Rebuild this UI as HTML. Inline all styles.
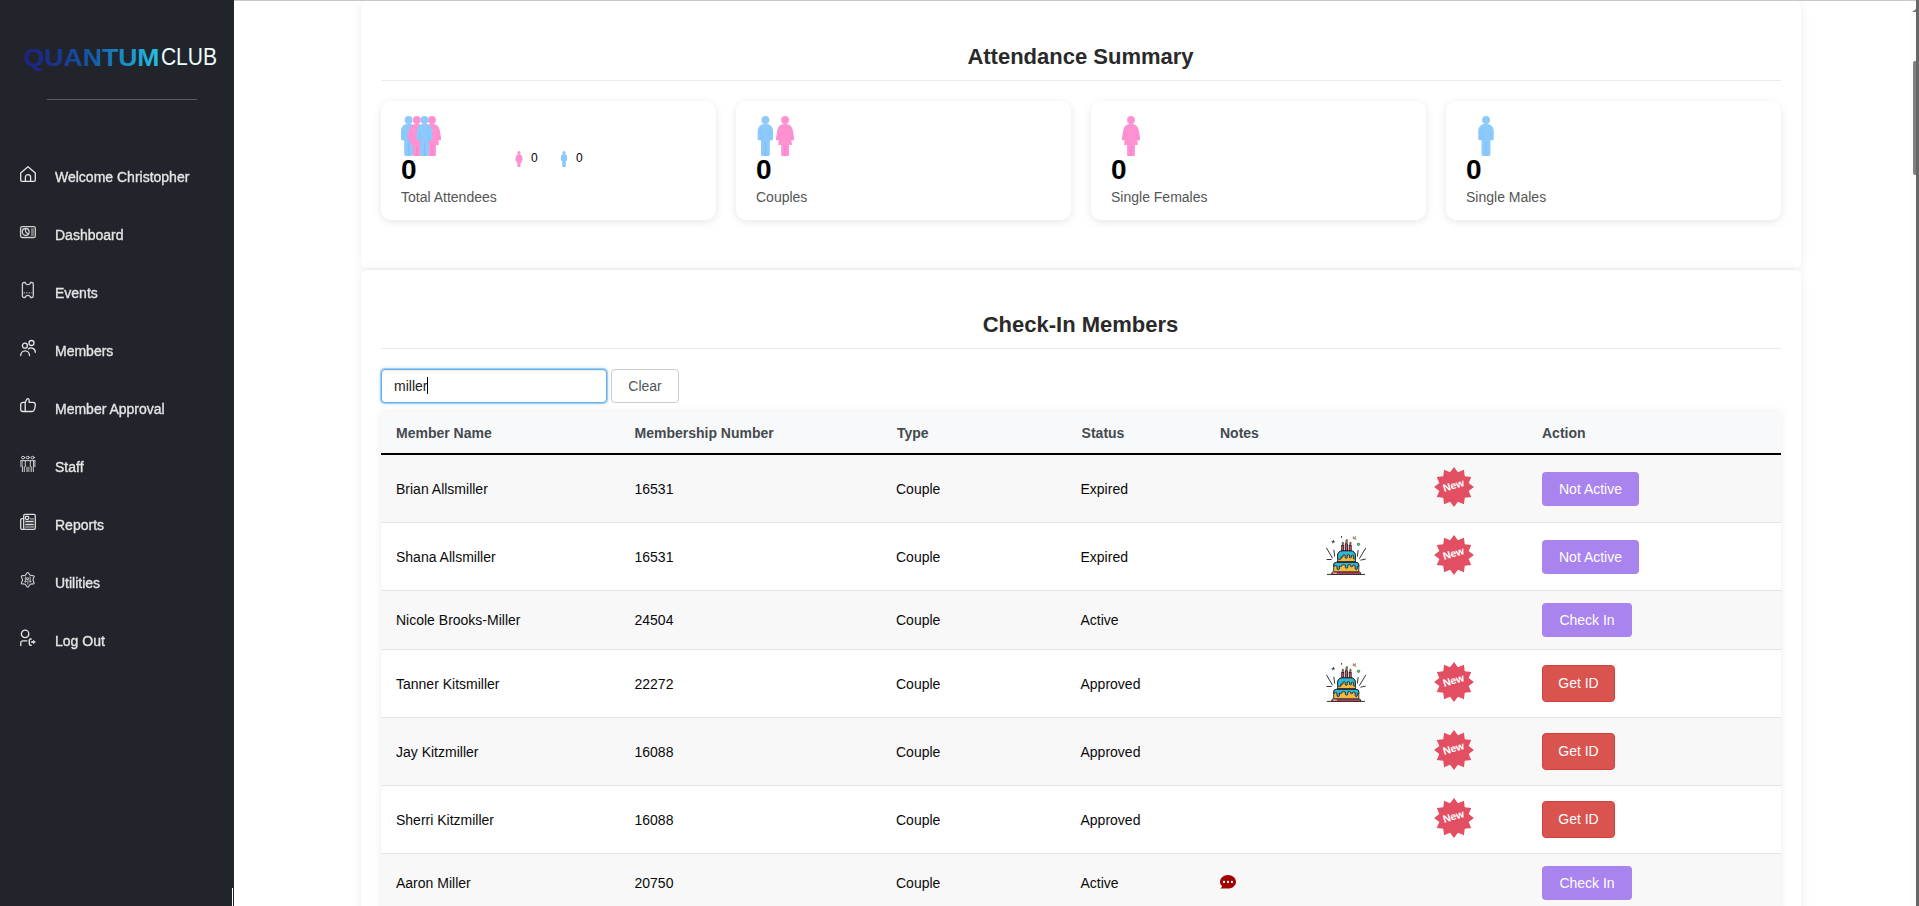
<!DOCTYPE html>
<html lang="en">
<head>
<meta charset="utf-8">
<title>Quantum Club - Check-In</title>
<style>
*{box-sizing:border-box;}
html,body{margin:0;padding:0;width:1919px;height:906px;overflow:hidden;background:#fff;
  font-family:"Liberation Sans",Arial,Helvetica,sans-serif;color:#111;}
#topline{position:absolute;left:234px;top:0;width:1682px;height:1px;background:#c9c9c9;}
#sbar{position:absolute;left:1916px;top:0;width:3px;height:906px;background:#666;}
#strack{position:absolute;left:1909px;top:1px;width:7px;height:905px;background:#fcfcfc;}
#sthumb{position:absolute;left:1913px;top:61px;width:3px;height:114px;background:#808080;border-radius:2px 0 0 2px;}
#sarrow{position:absolute;left:1912px;top:9px;width:0;height:0;border-left:4px solid transparent;border-bottom:3px solid #777;}

/* sidebar */
#side{position:absolute;left:0;top:0;width:234px;height:906px;background:#21242b;color:#e9e9e9;}
#side hr{position:absolute;left:47px;top:99px;width:150px;height:1px;border:0;margin:0;background:#5a5d63;}
.nav{position:absolute;left:0;width:234px;height:24px;}
.nav svg{position:absolute;left:20px;top:0;width:16px;height:16px;overflow:visible;fill:none;stroke:#e6e6e6;stroke-width:1.3;stroke-linecap:round;stroke-linejoin:round;}
.nav span{position:absolute;left:55px;top:3px;font-size:14px;line-height:17px;color:#e4e4e4;white-space:nowrap;will-change:transform;-webkit-text-stroke:0.35px #e4e4e4;}

/* cards */
.card{position:absolute;left:361px;width:1440px;background:#fff;border-radius:6px;
  box-shadow:0 0 11px rgba(0,0,0,0.075);}
.card h2{position:absolute;left:-0.5px;width:1440px;margin:0;text-align:center;font-size:22px;line-height:26px;font-weight:bold;color:#2a2a2a;}
.card .rule{position:absolute;left:20px;width:1400px;height:1px;background:#ebebeb;}
.stat{position:absolute;width:335px;height:119px;background:#fff;border-radius:10px;
  box-shadow:0 2px 9px rgba(0,0,0,0.10);}
.stat .num{position:absolute;left:20px;top:53px;font-size:28px;line-height:32px;font-weight:bold;color:#000;}
.stat .lbl{position:absolute;left:20px;top:88px;font-size:14px;line-height:17px;color:#555;white-space:nowrap;}
.stat svg{position:absolute;}
.mini{position:absolute;font-size:12px;line-height:14px;color:#000;}

/* search */
#q{position:absolute;left:20px;top:99px;width:226px;height:34px;border:1px solid #66afe9;border-radius:4px;
  box-shadow:inset 0 1px 1px rgba(0,0,0,.075),0 0 0 1px rgba(140,192,243,.75),0 0 4px rgba(102,175,233,.55);font-size:14px;line-height:32px;padding:0 12px;color:#222;background:#fff;white-space:nowrap;}
#q i{display:inline-block;width:1px;height:17px;background:#000;vertical-align:-3px;margin-left:0;}
#clr{position:absolute;left:250px;top:99px;width:68px;height:34px;border:1px solid #ccc;border-radius:4px;background:#fff;
  font-size:14px;line-height:32px;text-align:center;color:#555;}

/* table */
#tbl{position:absolute;left:20px;top:142px;width:1400px;box-shadow:0 0 8px rgba(0,0,0,0.08);}
#thead{position:relative;height:43px;background:#f8f9fa;border-bottom:2px solid #000;}
#thead b{position:absolute;top:13px;font-size:14px;line-height:17px;color:#444a50;white-space:nowrap;}
.row{position:relative;border-bottom:1px solid #e3e4e8;background:#fff;}
.row.alt{background:#f8f8f8;}
.row.tall{height:68px;}
.row.short{height:59px;}
.row span{position:absolute;font-size:14px;line-height:17px;color:#0a0a0a;white-space:nowrap;}
.tall span{top:26px;}
.short span{top:21px;}
.c1{left:15px;}.c2{left:253.5px;}.c3{left:515px;}.c4{left:699.5px;}
.btn{position:absolute;left:1161px;border-radius:4px;color:#fff;font-size:14px;text-align:center;white-space:nowrap;}
.pur{background:#a983ee;height:34px;line-height:34px;}
.red{background:#d9534f;height:37px;line-height:35px;width:73px;border:1px solid #d43f3a;}
.tall .pur{top:17px;}.short .pur{top:12px;}.tall .red{top:15px;}
.new{position:absolute;left:1053px;top:12px;width:40px;height:40px;}
.cake{position:absolute;left:945px;top:12px;width:40px;height:40px;}
</style>
</head>
<body>
<div id="main">
<div class="card" style="top:1px;height:267px">
<h2 style="top:43px">Attendance Summary</h2>
<div class="rule" style="top:79px"></div>
<div class="stat" style="left:20px;top:100px"><svg style="left:20px;top:15px" width="40" height="40" viewBox="0 0 40 40"><g transform="translate(7.6 0) scale(1.0)"><circle cx="0" cy="3.95" r="3.95" fill="#8dc9fb"/><path fill="#8dc9fb" d="M-7.75 15.6C-7.75 10.6-4.6 7.8 0 7.8C4.6 7.8 7.75 10.6 7.75 15.6V23.1Q7.75 24.3 6.6 24.3H4.4V38.6Q4.4 40 3 40H-3Q-4.4 40-4.4 38.6V24.3H-6.6Q-7.75 24.3-7.75 23.1Z"/><path d="M-4.4 15.5V24.3M4.4 15.5V24.3" stroke="#74bdfa" stroke-width=".5" opacity=".7"/><path d="M0 26V40" stroke="#74bdfa" stroke-width=".9"/></g><g transform="translate(15.8 0) scale(1.0)"><circle cx="0" cy="3.95" r="3.95" fill="#fd92d3"/><path fill="#fd92d3" d="M0 7.8C3.8 7.8 6.8 10 7.7 14L9.2 22.8Q9.3 24.7 7.8 24.4L6.3 24L6.9 29.1H3.9V38.8Q3.9 40 2.7 40H-2.7Q-3.9 40-3.9 38.8V29.1H-6.9L-6.3 24L-7.8 24.4Q-9.3 24.7-9.2 22.8L-7.7 14C-6.8 10-3.8 7.8 0 7.8Z"/><path d="M-5 15.5L-6.3 24M5 15.5L6.3 24" stroke="#fb7cc9" stroke-width=".5" opacity=".7"/><path d="M0 30V40" stroke="#fb7cc9" stroke-width=".9"/></g><g transform="translate(31 0) scale(1.0)"><circle cx="0" cy="3.95" r="3.95" fill="#fd92d3"/><path fill="#fd92d3" d="M0 7.8C3.8 7.8 6.8 10 7.7 14L9.2 22.8Q9.3 24.7 7.8 24.4L6.3 24L6.9 29.1H3.9V38.8Q3.9 40 2.7 40H-2.7Q-3.9 40-3.9 38.8V29.1H-6.9L-6.3 24L-7.8 24.4Q-9.3 24.7-9.2 22.8L-7.7 14C-6.8 10-3.8 7.8 0 7.8Z"/><path d="M-5 15.5L-6.3 24M5 15.5L6.3 24" stroke="#fb7cc9" stroke-width=".5" opacity=".7"/><path d="M0 30V40" stroke="#fb7cc9" stroke-width=".9"/></g><g transform="translate(23.5 0) scale(1.0)"><circle cx="0" cy="3.95" r="3.95" fill="#8dc9fb"/><path fill="#8dc9fb" d="M-7.75 15.6C-7.75 10.6-4.6 7.8 0 7.8C4.6 7.8 7.75 10.6 7.75 15.6V23.1Q7.75 24.3 6.6 24.3H4.4V38.6Q4.4 40 3 40H-3Q-4.4 40-4.4 38.6V24.3H-6.6Q-7.75 24.3-7.75 23.1Z"/><path d="M-4.4 15.5V24.3M4.4 15.5V24.3" stroke="#74bdfa" stroke-width=".5" opacity=".7"/><path d="M0 26V40" stroke="#74bdfa" stroke-width=".9"/></g></svg><div class="num">0</div><div class="lbl">Total Attendees</div><svg style="left:130px;top:50px" width="16" height="16" viewBox="0 0 16 16"><g transform="translate(8 0) scale(0.4)"><circle cx="0" cy="3.95" r="3.95" fill="#fd92d3"/><path fill="#fd92d3" d="M0 7.8C3.8 7.8 6.8 10 7.7 14L9.2 22.8Q9.3 24.7 7.8 24.4L6.3 24L6.9 29.1H3.9V38.8Q3.9 40 2.7 40H-2.7Q-3.9 40-3.9 38.8V29.1H-6.9L-6.3 24L-7.8 24.4Q-9.3 24.7-9.2 22.8L-7.7 14C-6.8 10-3.8 7.8 0 7.8Z"/><path d="M-5 15.5L-6.3 24M5 15.5L6.3 24" stroke="#fb7cc9" stroke-width=".5" opacity=".7"/><path d="M0 30V40" stroke="#fb7cc9" stroke-width=".9"/></g></svg><div class="mini" style="left:150px;top:50px">0</div><svg style="left:175px;top:50px" width="16" height="16" viewBox="0 0 16 16"><g transform="translate(8 0) scale(0.4)"><circle cx="0" cy="3.95" r="3.95" fill="#8dc9fb"/><path fill="#8dc9fb" d="M-7.75 15.6C-7.75 10.6-4.6 7.8 0 7.8C4.6 7.8 7.75 10.6 7.75 15.6V23.1Q7.75 24.3 6.6 24.3H4.4V38.6Q4.4 40 3 40H-3Q-4.4 40-4.4 38.6V24.3H-6.6Q-7.75 24.3-7.75 23.1Z"/><path d="M-4.4 15.5V24.3M4.4 15.5V24.3" stroke="#74bdfa" stroke-width=".5" opacity=".7"/><path d="M0 26V40" stroke="#74bdfa" stroke-width=".9"/></g></svg><div class="mini" style="left:195px;top:50px">0</div></div>
<div class="stat" style="left:375px;top:100px"><svg style="left:20px;top:15px" width="40" height="40" viewBox="0 0 40 40"><g transform="translate(9.4 0) scale(1.0)"><circle cx="0" cy="3.95" r="3.95" fill="#8dc9fb"/><path fill="#8dc9fb" d="M-7.75 15.6C-7.75 10.6-4.6 7.8 0 7.8C4.6 7.8 7.75 10.6 7.75 15.6V23.1Q7.75 24.3 6.6 24.3H4.4V38.6Q4.4 40 3 40H-3Q-4.4 40-4.4 38.6V24.3H-6.6Q-7.75 24.3-7.75 23.1Z"/><path d="M-4.4 15.5V24.3M4.4 15.5V24.3" stroke="#74bdfa" stroke-width=".5" opacity=".7"/><path d="M0 26V40" stroke="#74bdfa" stroke-width=".9"/></g><g transform="translate(29.1 0) scale(1.0)"><circle cx="0" cy="3.95" r="3.95" fill="#fd92d3"/><path fill="#fd92d3" d="M0 7.8C3.8 7.8 6.8 10 7.7 14L9.2 22.8Q9.3 24.7 7.8 24.4L6.3 24L6.9 29.1H3.9V38.8Q3.9 40 2.7 40H-2.7Q-3.9 40-3.9 38.8V29.1H-6.9L-6.3 24L-7.8 24.4Q-9.3 24.7-9.2 22.8L-7.7 14C-6.8 10-3.8 7.8 0 7.8Z"/><path d="M-5 15.5L-6.3 24M5 15.5L6.3 24" stroke="#fb7cc9" stroke-width=".5" opacity=".7"/><path d="M0 30V40" stroke="#fb7cc9" stroke-width=".9"/></g></svg><div class="num">0</div><div class="lbl">Couples</div></div>
<div class="stat" style="left:730px;top:100px"><svg style="left:20px;top:15px" width="40" height="40" viewBox="0 0 40 40"><g transform="translate(20 0) scale(1.0)"><circle cx="0" cy="3.95" r="3.95" fill="#fd92d3"/><path fill="#fd92d3" d="M0 7.8C3.8 7.8 6.8 10 7.7 14L9.2 22.8Q9.3 24.7 7.8 24.4L6.3 24L6.9 29.1H3.9V38.8Q3.9 40 2.7 40H-2.7Q-3.9 40-3.9 38.8V29.1H-6.9L-6.3 24L-7.8 24.4Q-9.3 24.7-9.2 22.8L-7.7 14C-6.8 10-3.8 7.8 0 7.8Z"/><path d="M-5 15.5L-6.3 24M5 15.5L6.3 24" stroke="#fb7cc9" stroke-width=".5" opacity=".7"/><path d="M0 30V40" stroke="#fb7cc9" stroke-width=".9"/></g></svg><div class="num">0</div><div class="lbl">Single Females</div></div>
<div class="stat" style="left:1085px;top:100px"><svg style="left:20px;top:15px" width="40" height="40" viewBox="0 0 40 40"><g transform="translate(20 0) scale(1.0)"><circle cx="0" cy="3.95" r="3.95" fill="#8dc9fb"/><path fill="#8dc9fb" d="M-7.75 15.6C-7.75 10.6-4.6 7.8 0 7.8C4.6 7.8 7.75 10.6 7.75 15.6V23.1Q7.75 24.3 6.6 24.3H4.4V38.6Q4.4 40 3 40H-3Q-4.4 40-4.4 38.6V24.3H-6.6Q-7.75 24.3-7.75 23.1Z"/><path d="M-4.4 15.5V24.3M4.4 15.5V24.3" stroke="#74bdfa" stroke-width=".5" opacity=".7"/><path d="M0 26V40" stroke="#74bdfa" stroke-width=".9"/></g></svg><div class="num">0</div><div class="lbl">Single Males</div></div>
</div>
<div class="card" style="top:270px;height:660px">
<h2 style="top:42px">Check-In Members</h2>
<div class="rule" style="top:78px"></div>
<div id="q">miller<i></i></div><div id="clr">Clear</div>
<div id="tbl"><div id="thead"><b style="left:15px">Member Name</b><b style="left:253.5px">Membership Number</b><b style="left:516px">Type</b><b style="left:700.6px">Status</b><b style="left:839px">Notes</b><b style="left:1161px">Action</b></div>
<div class="row tall alt"><span class="c1">Brian Allsmiller</span><span class="c2">16531</span><span class="c3">Couple</span><span class="c4">Expired</span><svg class="new" viewBox="0 0 40 40"><polygon points="20.00,0.10 23.93,5.32 29.95,2.77 30.75,9.25 37.23,10.05 34.68,16.07 39.90,20.00 34.68,23.93 37.23,29.95 30.75,30.75 29.95,37.23 23.93,34.68 20.00,39.90 16.07,34.68 10.05,37.23 9.25,30.75 2.77,29.95 5.32,23.93 0.10,20.00 5.32,16.07 2.77,10.05 9.25,9.25 10.05,2.77 16.07,5.32" fill="#e24f62"/><text x="20" y="22" text-anchor="middle" transform="rotate(-17 20 20)" font-family="Liberation Sans, Arial, sans-serif" font-weight="bold" font-size="10.6" fill="#fff">New</text></svg><div class="btn pur" style="width:97px">Not Active</div></div>
<div class="row tall"><span class="c1">Shana Allsmiller</span><span class="c2">16531</span><span class="c3">Couple</span><span class="c4">Expired</span><svg class="cake" viewBox="0 0 40 40">
<g stroke="#1c1c24" stroke-width=".9" stroke-linecap="round" fill="none"><path d="M.6 13.2L6.4 23M7.9 15.2L8.6 21.2M1 24.5H5.3M39.6 13.2L33.5 23.4M32.1 15.5L31.4 21.2M34.8 25.1L39.3 24.2M1.4 39.4H38.6"/><path d="M6 6.6L8.6 6.9M7.6 5.4L6.8 8" stroke-width=".8"/><path d="M15.6 1.4V2.4"/></g>
<path d="M27 1.5L28.6 2.6L29.6 1.3L29.2 3.2L30 4.6L28.3 4L26.6 3.3L27.6 2.6Z" fill="#f2a33a" stroke="#2a2a33" stroke-width=".3"/>
<circle cx="32.5" cy="9.3" r="1.3" fill="#4fc46a" stroke="#2a2a33" stroke-width=".4"/>
<g stroke="#1c1c24" stroke-width=".85"><rect x="15.7" y="10.5" width="2" height="5.6" fill="#e0506a"/><rect x="19.3" y="8.8" width="2.2" height="7.3" fill="#e0506a"/><rect x="23.2" y="10.5" width="2" height="5.6" fill="#e0506a"/>
<path d="M16.7 10.3C15.6 9 16.4 7.6 16.9 6.9C17.6 8 17.8 9.3 16.7 10.3ZM20.4 8.6C19.1 7.2 20 5.3 21 4.3C21.6 5.8 21.8 7.4 20.4 8.6ZM24.2 10.3C23.1 9 23.9 7.6 24.6 6.9C25.2 8 25.3 9.3 24.2 10.3Z" fill="#e8922e" stroke-width=".7"/>
<path d="M5.6 39.2Q5.6 36.9 7.4 36.9H33Q34.8 36.9 34.8 39.2Z" fill="#e0506a"/>
<path d="M7.7 36.8V30Q7.7 27.3 10.6 27.3H29.9Q32.8 27.3 32.8 30V36.8Z" fill="#f4b843"/>
<path d="M7.7 31.5V30Q7.7 27.3 10.6 27.3H29.9Q32.8 27.3 32.8 30V31.5Q31.9 32.2 31.2 31.5V34Q30.2 35.6 29.2 34V30.5Q27.8 29.4 26.6 30.5V31.3Q25.6 32.3 24.6 31.3V30Q23.2 28.9 21.8 30V32.6Q20.6 33.8 19.4 32.6V30.2Q17.6 29 15.8 30.2V31Q14.6 32 13.4 31V34Q12.2 35.4 11 34V31Q9.4 30 7.7 31.5Z" fill="#2fbad8"/>
<path d="M11.6 26.8V21Q11.6 15.9 16.6 15.9H24.4Q29.4 15.9 29.4 21V26.8Z" fill="#f4b843"/>
<path d="M11.6 23.6V21Q11.6 15.9 16.6 15.9H24.4Q29.4 15.9 29.4 21V23.6Q28.4 24.6 27.4 23.6V20.5Q26.4 19.5 25.4 20.5V22.4Q24.4 23.4 23.4 22.4V20Q22.3 19 21.2 20V22.8Q20.2 23.8 19.2 22.8V20.2Q18.1 19.2 17 20.2V21.8Q16 22.8 15 21.8V24Q13.4 25.4 11.6 23.6Z" fill="#2fbad8"/>
<path d="M11 26.8H30" stroke-width=".8"/></g>
<path d="M7.4 38.1H10.4" stroke="#f6a9b6" stroke-width="1.2" stroke-linecap="round"/>
</svg><svg class="new" viewBox="0 0 40 40"><polygon points="20.00,0.10 23.93,5.32 29.95,2.77 30.75,9.25 37.23,10.05 34.68,16.07 39.90,20.00 34.68,23.93 37.23,29.95 30.75,30.75 29.95,37.23 23.93,34.68 20.00,39.90 16.07,34.68 10.05,37.23 9.25,30.75 2.77,29.95 5.32,23.93 0.10,20.00 5.32,16.07 2.77,10.05 9.25,9.25 10.05,2.77 16.07,5.32" fill="#e24f62"/><text x="20" y="22" text-anchor="middle" transform="rotate(-17 20 20)" font-family="Liberation Sans, Arial, sans-serif" font-weight="bold" font-size="10.6" fill="#fff">New</text></svg><div class="btn pur" style="width:97px">Not Active</div></div>
<div class="row short alt"><span class="c1">Nicole Brooks-Miller</span><span class="c2">24504</span><span class="c3">Couple</span><span class="c4">Active</span><div class="btn pur" style="width:90px">Check In</div></div>
<div class="row tall"><span class="c1">Tanner Kitsmiller</span><span class="c2">22272</span><span class="c3">Couple</span><span class="c4">Approved</span><svg class="cake" viewBox="0 0 40 40">
<g stroke="#1c1c24" stroke-width=".9" stroke-linecap="round" fill="none"><path d="M.6 13.2L6.4 23M7.9 15.2L8.6 21.2M1 24.5H5.3M39.6 13.2L33.5 23.4M32.1 15.5L31.4 21.2M34.8 25.1L39.3 24.2M1.4 39.4H38.6"/><path d="M6 6.6L8.6 6.9M7.6 5.4L6.8 8" stroke-width=".8"/><path d="M15.6 1.4V2.4"/></g>
<path d="M27 1.5L28.6 2.6L29.6 1.3L29.2 3.2L30 4.6L28.3 4L26.6 3.3L27.6 2.6Z" fill="#f2a33a" stroke="#2a2a33" stroke-width=".3"/>
<circle cx="32.5" cy="9.3" r="1.3" fill="#4fc46a" stroke="#2a2a33" stroke-width=".4"/>
<g stroke="#1c1c24" stroke-width=".85"><rect x="15.7" y="10.5" width="2" height="5.6" fill="#e0506a"/><rect x="19.3" y="8.8" width="2.2" height="7.3" fill="#e0506a"/><rect x="23.2" y="10.5" width="2" height="5.6" fill="#e0506a"/>
<path d="M16.7 10.3C15.6 9 16.4 7.6 16.9 6.9C17.6 8 17.8 9.3 16.7 10.3ZM20.4 8.6C19.1 7.2 20 5.3 21 4.3C21.6 5.8 21.8 7.4 20.4 8.6ZM24.2 10.3C23.1 9 23.9 7.6 24.6 6.9C25.2 8 25.3 9.3 24.2 10.3Z" fill="#e8922e" stroke-width=".7"/>
<path d="M5.6 39.2Q5.6 36.9 7.4 36.9H33Q34.8 36.9 34.8 39.2Z" fill="#e0506a"/>
<path d="M7.7 36.8V30Q7.7 27.3 10.6 27.3H29.9Q32.8 27.3 32.8 30V36.8Z" fill="#f4b843"/>
<path d="M7.7 31.5V30Q7.7 27.3 10.6 27.3H29.9Q32.8 27.3 32.8 30V31.5Q31.9 32.2 31.2 31.5V34Q30.2 35.6 29.2 34V30.5Q27.8 29.4 26.6 30.5V31.3Q25.6 32.3 24.6 31.3V30Q23.2 28.9 21.8 30V32.6Q20.6 33.8 19.4 32.6V30.2Q17.6 29 15.8 30.2V31Q14.6 32 13.4 31V34Q12.2 35.4 11 34V31Q9.4 30 7.7 31.5Z" fill="#2fbad8"/>
<path d="M11.6 26.8V21Q11.6 15.9 16.6 15.9H24.4Q29.4 15.9 29.4 21V26.8Z" fill="#f4b843"/>
<path d="M11.6 23.6V21Q11.6 15.9 16.6 15.9H24.4Q29.4 15.9 29.4 21V23.6Q28.4 24.6 27.4 23.6V20.5Q26.4 19.5 25.4 20.5V22.4Q24.4 23.4 23.4 22.4V20Q22.3 19 21.2 20V22.8Q20.2 23.8 19.2 22.8V20.2Q18.1 19.2 17 20.2V21.8Q16 22.8 15 21.8V24Q13.4 25.4 11.6 23.6Z" fill="#2fbad8"/>
<path d="M11 26.8H30" stroke-width=".8"/></g>
<path d="M7.4 38.1H10.4" stroke="#f6a9b6" stroke-width="1.2" stroke-linecap="round"/>
</svg><svg class="new" viewBox="0 0 40 40"><polygon points="20.00,0.10 23.93,5.32 29.95,2.77 30.75,9.25 37.23,10.05 34.68,16.07 39.90,20.00 34.68,23.93 37.23,29.95 30.75,30.75 29.95,37.23 23.93,34.68 20.00,39.90 16.07,34.68 10.05,37.23 9.25,30.75 2.77,29.95 5.32,23.93 0.10,20.00 5.32,16.07 2.77,10.05 9.25,9.25 10.05,2.77 16.07,5.32" fill="#e24f62"/><text x="20" y="22" text-anchor="middle" transform="rotate(-17 20 20)" font-family="Liberation Sans, Arial, sans-serif" font-weight="bold" font-size="10.6" fill="#fff">New</text></svg><div class="btn red">Get ID</div></div>
<div class="row tall alt"><span class="c1">Jay Kitzmiller</span><span class="c2">16088</span><span class="c3">Couple</span><span class="c4">Approved</span><svg class="new" viewBox="0 0 40 40"><polygon points="20.00,0.10 23.93,5.32 29.95,2.77 30.75,9.25 37.23,10.05 34.68,16.07 39.90,20.00 34.68,23.93 37.23,29.95 30.75,30.75 29.95,37.23 23.93,34.68 20.00,39.90 16.07,34.68 10.05,37.23 9.25,30.75 2.77,29.95 5.32,23.93 0.10,20.00 5.32,16.07 2.77,10.05 9.25,9.25 10.05,2.77 16.07,5.32" fill="#e24f62"/><text x="20" y="22" text-anchor="middle" transform="rotate(-17 20 20)" font-family="Liberation Sans, Arial, sans-serif" font-weight="bold" font-size="10.6" fill="#fff">New</text></svg><div class="btn red">Get ID</div></div>
<div class="row tall"><span class="c1">Sherri Kitzmiller</span><span class="c2">16088</span><span class="c3">Couple</span><span class="c4">Approved</span><svg class="new" viewBox="0 0 40 40"><polygon points="20.00,0.10 23.93,5.32 29.95,2.77 30.75,9.25 37.23,10.05 34.68,16.07 39.90,20.00 34.68,23.93 37.23,29.95 30.75,30.75 29.95,37.23 23.93,34.68 20.00,39.90 16.07,34.68 10.05,37.23 9.25,30.75 2.77,29.95 5.32,23.93 0.10,20.00 5.32,16.07 2.77,10.05 9.25,9.25 10.05,2.77 16.07,5.32" fill="#e24f62"/><text x="20" y="22" text-anchor="middle" transform="rotate(-17 20 20)" font-family="Liberation Sans, Arial, sans-serif" font-weight="bold" font-size="10.6" fill="#fff">New</text></svg><div class="btn red">Get ID</div></div>
<div class="row short alt"><span class="c1">Aaron Miller</span><span class="c2">20750</span><span class="c3">Couple</span><span class="c4">Active</span><svg style="position:absolute;left:839px;top:21px" width="16" height="14" viewBox="0 0 16 14"><path d="M8 0C12.4 0 16 3 16 6.8C16 10.6 12.4 13.6 8 13.6H0C1.2 12.9 1.9 12 2.1 11.2C.8 10 0 8.5 0 6.8C0 3 3.6 0 8 0Z" fill="#a30000"/><rect x="3" y="5.9" width="2" height="2" fill="#fff"/><rect x="7" y="5.9" width="2" height="2" fill="#fff"/><rect x="11" y="5.9" width="2" height="2" fill="#fff"/></svg><div class="btn pur" style="width:90px">Check In</div></div>
</div></div>
</div>
<div id="topline"></div>
<div id="strack"></div><div id="sarrow"></div><div id="sthumb"></div><div id="sbar"></div>
<div id="side">
<svg id="logo" style="position:absolute;left:18px;top:40px" width="204" height="36" viewBox="0 0 204 36">
<defs><linearGradient id="lg" x1="0" y1="0" x2="1" y2="0"><stop offset="0" stop-color="#1d2184"/><stop offset="0.25" stop-color="#193690"/><stop offset="0.5" stop-color="#155aa6"/><stop offset="0.75" stop-color="#1a8fc8"/><stop offset="1" stop-color="#27c2e4"/></linearGradient></defs>
<text x="5.7" y="26.1" font-family="Liberation Sans, Arial, sans-serif" font-weight="bold" font-size="24.6" fill="url(#lg)" textLength="135.8" lengthAdjust="spacingAndGlyphs">QUANTUM</text>
<text x="142.9" y="25.2" font-family="Liberation Sans, Arial, sans-serif" font-size="23.1" fill="#ecfdfd" textLength="56.2" lengthAdjust="spacingAndGlyphs">CLUB</text>
</svg>
<hr>
<div class="nav" style="top:166px"><svg viewBox="0 0 16 16"><path d="M8 .7L15.3 6.9V14a1.3 1.3 0 0 1-1.3 1.3H2A1.3 1.3 0 0 1 .7 14V6.9Z"/><path d="M5.4 15.3V11.2a2.6 2.6 0 0 1 5.2 0V15.3"/></svg><span>Welcome Christopher</span></div>
<div class="nav" style="top:224px"><svg viewBox="0 0 16 16"><rect x=".6" y="2.6" width="14.7" height="10.9" rx="1.6" stroke="#cfcfcf"/><circle cx="5.7" cy="7.9" r="3.4" stroke="#cfcfcf"/><path d="M5.4 5.6L5.7 7.9L7.9 10" stroke="#cfcfcf"/><rect x="10.9" y="4.3" width="3" height="7.6" fill="#7d7d7d" stroke="none"/></svg><span>Dashboard</span></div>
<div class="nav" style="top:282px"><svg viewBox="0 0 16 16"><path d="M3.9 .5H5.2a2.7 2.7 0 0 0 5.3 0H11.8a1.5 1.5 0 0 1 1.5 1.5V14a1.5 1.5 0 0 1-1.5 1.5H10.5a2.7 2.7 0 0 0-5.3 0H3.9A1.5 1.5 0 0 1 2.4 14V2A1.5 1.5 0 0 1 3.9 .5Z" stroke="#cfcfd2"/><path d="M3.6 10.8H12.4" stroke="#9a9ca2" stroke-width="1.6" stroke-dasharray="1.3 1.3" stroke-linecap="butt"/></svg><span>Events</span></div>
<div class="nav" style="top:340px"><svg viewBox="0 0 16 16"><circle cx="4.9" cy="5.65" r="2.5"/><path d="M.7 15.5a4.4 4.7 0 0 1 8.8 0"/><circle cx="11.5" cy="3" r="2.5"/><path d="M8.3 8.9a4.3 4.3 0 0 1 7 3.4"/></svg><span>Members</span></div>
<div class="nav" style="top:398px"><svg viewBox="0 0 16 16"><path d="M5.2 4.4H3A2.3 2.3 0 0 0 .7 6.7V11.2A2.3 2.3 0 0 0 3 13.5H5.2Z"/><path d="M5.2 4.4C5.9 3.4 6.3 1.6 7 1 7.8 .4 9.1 .9 9.1 2.1V4.4H13a2.3 2.3 0 0 1 2.3 2.3C15.3 9 14.5 11.4 13.8 12.6a2 2 0 0 1-1.6 .9H5.2"/></svg><span>Member Approval</span></div>
<div class="nav" style="top:456px"><svg viewBox="0 0 16 16"><g stroke="#d4d4d4" stroke-width="1"><ellipse cx="3.1" cy="1.6" rx="1.6" ry="1.3"/><ellipse cx="7.8" cy="1.6" rx="1.6" ry="1.3"/><ellipse cx="12.6" cy="1.6" rx="1.6" ry="1.3"/><path d="M.6 4.7H15.2M2 4.7V10.5M5.3 4.7V10.5M10.3 4.7V10.5M13.6 4.7V10.5M2.4 10.8V15.6M4.3 10.8V15.6M11.2 10.8V15.6M13.3 10.8V15.6"/></g><rect x=".1" y="5" width="1.6" height="6" fill="#8a8a8c" stroke="none"/><rect x="14" y="5" width="1.7" height="6" fill="#8a8a8c" stroke="none"/><rect x="6" y="10.8" width="3.6" height="5.2" fill="#808082" stroke="none"/></svg><span>Staff</span></div>
<div class="nav" style="top:514px"><svg viewBox="0 0 16 16"><g stroke="#dcdcdc"><rect x="3.7" y=".4" width="11.6" height="14.9" rx="1.3"/><path d="M3.7 4.6H1.9A1.2 1.2 0 0 0 .7 5.8V14.1A1.2 1.2 0 0 0 1.9 15.3H3.7"/><rect x="5.5" y="2.3" width="3.2" height="3" rx=".8"/><path d="M5.3 7.5H13.7M5.3 10.5H13.7" stroke-linecap="butt"/></g><rect x="10" y="4" width="3.9" height="1.7" fill="#88898c" stroke="none"/><rect x="5" y="12.1" width="9" height="1.7" fill="#88898c" stroke="none"/></svg><span>Reports</span></div>
<div class="nav" style="top:572px"><svg viewBox="0 0 16 16"><path d="M5.15 3.30L6.68 1.59A1 1 0 1 1 8.82 1.59L10.35 3.30L12.59 3.77A1 1 0 1 1 13.66 5.62L12.95 7.80L13.66 9.98A1 1 0 1 1 12.59 11.83L10.35 12.30L8.82 14.01A1 1 0 1 1 6.68 14.01L5.15 12.30L2.91 11.83A1 1 0 1 1 1.84 9.98L2.55 7.80L1.84 5.62A1 1 0 1 1 2.91 3.77Z" stroke="#d8d8d8" stroke-width="1.05"/><path d="M5.4 4.8V8.6M10.1 4.8V8.6M7 5.8H8.5V7.6H7Z" stroke="#c8c8c8" stroke-width=".9"/><circle cx="5.4" cy="9.6" r=".8" stroke="#c8c8c8" stroke-width=".8"/><circle cx="10.1" cy="9.6" r=".8" stroke="#c8c8c8" stroke-width=".8"/><path d="M7.75 8.6V12" stroke="#8a8a8c" stroke-width="1.4"/></svg><span>Utilities</span></div>
<div class="nav" style="top:630px"><svg viewBox="0 0 16 16"><circle cx="5.1" cy="3.9" r="3.7"/><path d="M.8 15.5V12.8A2 2 0 0 1 2.8 10.8H6.9"/><path d="M11.2 9H10.6A1.3 1.3 0 0 0 9.3 10.3V14A1.3 1.3 0 0 0 10.6 15.3H11.2" stroke-width="1.4"/><path d="M11.2 11H13V9.7L16 12L13 14.2V12.9H11.2Z" fill="#cfcfcf" stroke="none"/></svg><span>Log Out</span></div>
<i style="position:absolute;left:232px;top:888px;width:1px;height:18px;background:#fff"></i>
</div>
</body>
</html>
